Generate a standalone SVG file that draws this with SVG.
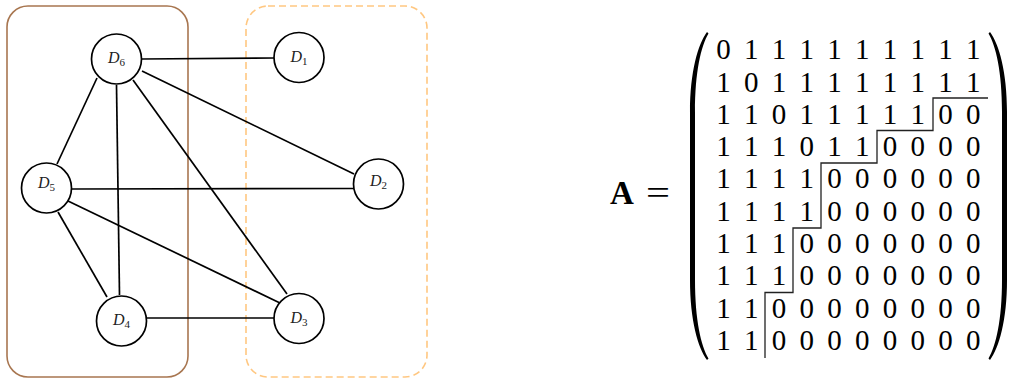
<svg xmlns="http://www.w3.org/2000/svg" width="1010" height="380" viewBox="0 0 1010 380">
  <style>
    .edge { stroke: #000; stroke-width: 1.7; fill: none; }
    .node circle { fill: #fff; stroke: #000; stroke-width: 1.7; }
    .node text { font-family: "Liberation Serif", serif; font-style: italic; font-size: 16px; fill: #222; text-anchor: middle; }
    .sub { font-style: normal; font-size: 11px; }
    .cell { font-family: "Liberation Serif", serif; font-size: 29px; fill: #000; text-anchor: middle; }
    .stair { stroke: #222; stroke-width: 1.3; fill: none; }
  </style>

  <!-- cluster outlines -->
  <g id="clusters">
    <rect x="7" y="6" width="181" height="371" rx="21" ry="21" fill="none" stroke="#a87650" stroke-width="1.6"/>
    <rect x="246" y="6" width="181" height="371" rx="22" ry="22" fill="none" stroke="#ffc781" stroke-width="1.6" stroke-dasharray="7 4"/>
  </g>

  <!-- connectors -->
  <g id="edges">
    <line class="edge" x1="142" y1="59" x2="274" y2="58"/>
    <line class="edge" x1="97" y1="78" x2="57" y2="164"/>
    <line class="edge" x1="116.5" y1="85" x2="119.5" y2="295"/>
    <line class="edge" x1="133" y1="80" x2="287" y2="294"/>
    <line class="edge" x1="142" y1="71" x2="354" y2="174"/>
    <line class="edge" x1="72" y1="189" x2="354" y2="188.5"/>
    <line class="edge" x1="58" y1="212" x2="107" y2="297"/>
    <line class="edge" x1="68" y1="201" x2="280" y2="303"/>
    <line class="edge" x1="146" y1="318" x2="274" y2="318"/>
  </g>

  <!-- nodes -->
  <g id="D6" class="node">
    <circle cx="116.5" cy="59" r="25"/>
    <text x="116.5" y="63">D<tspan class="sub" dy="3">6</tspan></text>
  </g>
  <g id="D1" class="node">
    <circle cx="299" cy="57.5" r="25"/>
    <text x="299" y="61.5">D<tspan class="sub" dy="3">1</tspan></text>
  </g>
  <g id="D5" class="node">
    <circle cx="46.5" cy="188" r="25"/>
    <text x="46.5" y="188">D<tspan class="sub" dy="3">5</tspan></text>
  </g>
  <g id="D2" class="node">
    <circle cx="378.5" cy="184" r="25"/>
    <text x="378.5" y="186">D<tspan class="sub" dy="3">2</tspan></text>
  </g>
  <g id="D4" class="node">
    <circle cx="121.5" cy="321" r="25"/>
    <text x="121.5" y="325">D<tspan class="sub" dy="3">4</tspan></text>
  </g>
  <g id="D3" class="node">
    <circle cx="299" cy="318.5" r="25"/>
    <text x="299" y="323">D<tspan class="sub" dy="3">3</tspan></text>
  </g>

  <!-- adjacency matrix -->
  <g id="matrix">
    <text x="610" y="204" font-family="Liberation Serif, serif" font-weight="bold" font-size="33" fill="#000">A</text>
    <text x="646" y="204" font-family="Liberation Serif, serif" font-size="34" fill="#000" textLength="24" lengthAdjust="spacingAndGlyphs">=</text>

    <!-- parentheses -->
    <path d="M707,32 C698,44 690,72 690,112 L690,280 C690,320 698,348 707,360 L708.5,358.5 C701,346 695,320 695,280 L695,112 C695,72 701,46 708.5,33.5 Z" fill="#000"/>
    <path d="M990,32 C999,44 1007,72 1007,112 L1007,280 C1007,320 999,348 990,360 L988.5,358.5 C996,346 1002,320 1002,280 L1002,112 C1002,72 996,46 988.5,33.5 Z" fill="#000"/>

    <!-- matrix entries, one row per line -->
    <g class="cell">
      <text x="723.5 751.25 779 806.75 834.5 862.25 890 917.75 945.5 973.25" y="59.2">0111111111</text>
      <text x="723.5 751.25 779 806.75 834.5 862.25 890 917.75 945.5 973.25" y="91.5">1011111111</text>
      <text x="723.5 751.25 779 806.75 834.5 862.25 890 917.75 945.5 973.25" y="123.8">1101111100</text>
      <text x="723.5 751.25 779 806.75 834.5 862.25 890 917.75 945.5 973.25" y="156.1">1110110000</text>
      <text x="723.5 751.25 779 806.75 834.5 862.25 890 917.75 945.5 973.25" y="188.4">1111000000</text>
      <text x="723.5 751.25 779 806.75 834.5 862.25 890 917.75 945.5 973.25" y="220.7">1111000000</text>
      <text x="723.5 751.25 779 806.75 834.5 862.25 890 917.75 945.5 973.25" y="253">1110000000</text>
      <text x="723.5 751.25 779 806.75 834.5 862.25 890 917.75 945.5 973.25" y="285.3">1110000000</text>
      <text x="723.5 751.25 779 806.75 834.5 862.25 890 917.75 945.5 973.25" y="317.6">1100000000</text>
      <text x="723.5 751.25 779 806.75 834.5 862.25 890 917.75 945.5 973.25" y="349.9">1100000000</text>
    </g>

    <!-- staircase separating the ones from the zeros -->
    <path class="stair" d="M988,98 H933 V130.5 H877 V163 H821 V228 H793 V292.5 H765 V358"/>
  </g>
</svg>
